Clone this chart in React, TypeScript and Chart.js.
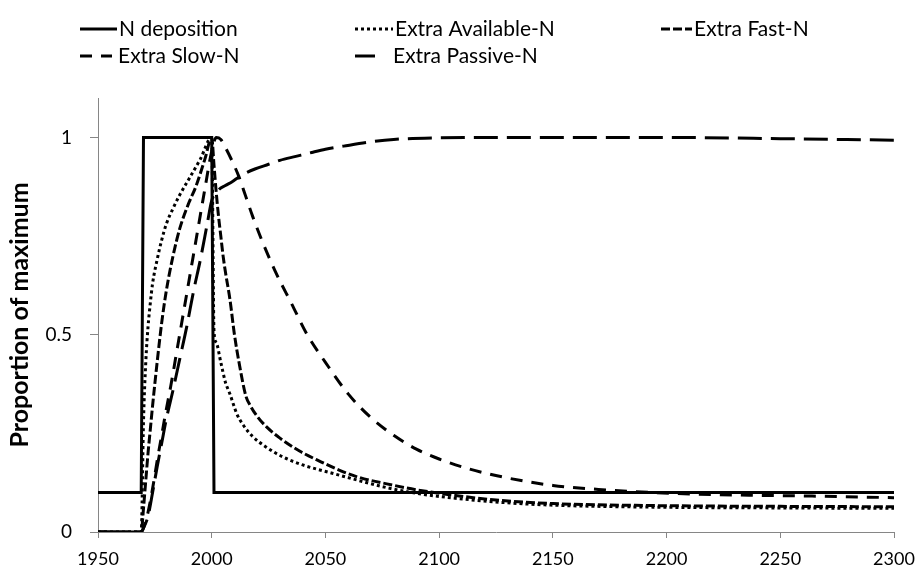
import React, { useEffect, useRef } from "react";
import { Chart, registerables } from "chart.js";

Chart.register(...registerables);

// ---------- data ----------
const seriesNames = [
  "N deposition",
  "Extra Available-N",
  "Extra Fast-N",
  "Extra Slow-N",
  "Extra Passive-N",
];

const xTickValues = [1950, 2000, 2050, 2100, 2150, 2200, 2250, 2300];
const yTickValues = [0, 0.5, 1];

const depYears = [1950, 1969, 1970, 2000, 2001, 2300];
const depValues = [0.1, 0.1, 1, 1, 0.1, 0.1];

const availYears = [
  1950, 1969, 1970, 1971, 1972, 1973, 1974, 1976, 1978, 1980, 1983, 1986, 1990,
  1995, 2000, 2001, 2002, 2004, 2006, 2008, 2011, 2014, 2018, 2024, 2031, 2040,
  2053, 2065, 2075, 2090, 2108, 2130, 2150, 2194, 2250, 2300,
];
const availValues = [
  0, 0, 0.28, 0.43, 0.52, 0.58, 0.63, 0.69, 0.74, 0.78, 0.82, 0.855, 0.895,
  0.945, 1.0, 0.51, 0.48, 0.43, 0.38, 0.35, 0.3, 0.27, 0.242, 0.215, 0.191,
  0.17, 0.149, 0.13, 0.115, 0.098, 0.085, 0.074, 0.068, 0.063, 0.061, 0.06,
];

const fastYears = [
  1950, 1969, 1970, 1971, 1972, 1973, 1974, 1976, 1978, 1980, 1983, 1986, 1990,
  1993, 1997, 2000, 2001, 2002, 2003, 2004, 2005, 2006, 2008, 2010, 2012, 2015,
  2017, 2020, 2024, 2030, 2039, 2048, 2056, 2065, 2077, 2090, 2108, 2125, 2150,
  2194, 2250, 2300,
];
const fastValues = [
  0, 0, 0.06, 0.13, 0.2, 0.26, 0.32, 0.43, 0.53, 0.61, 0.7, 0.77, 0.835,
  0.875, 0.945, 1.0, 0.93, 0.86, 0.8, 0.75, 0.7, 0.66, 0.59, 0.5, 0.43, 0.345,
  0.32, 0.293, 0.267, 0.238, 0.204, 0.178, 0.157, 0.138, 0.122, 0.107, 0.092,
  0.081, 0.072, 0.067, 0.065, 0.064,
];

const slowYears = [
  1950, 1969, 1970, 1972, 1974, 1976, 1978, 1980, 1982, 1985, 1988, 1991, 1994,
  1997, 2000, 2002, 2004, 2006, 2009, 2012, 2015, 2018, 2022, 2028, 2035, 2042,
  2050, 2060, 2070, 2080, 2090, 2100, 2113, 2130, 2150, 2170, 2194, 2212, 2238,
  2264, 2300,
];
const slowValues = [
  0, 0, 0.01, 0.05, 0.11, 0.18, 0.245, 0.31, 0.37, 0.47, 0.57, 0.67, 0.77,
  0.87, 0.965, 1.0, 0.995, 0.975, 0.94, 0.9, 0.85, 0.8, 0.74, 0.66, 0.58, 0.5,
  0.43, 0.35, 0.29, 0.245, 0.21, 0.185, 0.16, 0.137, 0.118, 0.108, 0.1, 0.096,
  0.093, 0.091, 0.087,
];

const passiveYears = [
  1950, 1969, 1970, 1972, 1974, 1976, 1978, 1980, 1983, 1986, 1989, 1992, 1995,
  1998, 2000, 2003, 2006, 2009, 2012, 2015, 2019, 2025, 2030, 2037, 2044, 2050,
  2058, 2070, 2080, 2100, 2125, 2150, 2200, 2250, 2300,
];
const passiveValues = [
  0, 0, 0.01, 0.04, 0.1, 0.165, 0.225, 0.285, 0.36, 0.44, 0.52, 0.61, 0.69,
  0.78, 0.84, 0.867, 0.878, 0.888, 0.9, 0.91, 0.92, 0.932, 0.942, 0.952, 0.962,
  0.97, 0.978, 0.989, 0.995, 0.999, 1.0, 1.0, 1.0, 0.997, 0.993,
];

// ---------- styling ----------
const FONT = "Lato, 'Open Sans', 'Liberation Sans', sans-serif";
const AXIS_GRAY = "#868686";
const dashes: number[][] = [[], [3, 3], [9, 3], [12, 9], [24, 9]];

const toPoints = (xs: number[], ys: number[]) =>
  xs.map((x, i) => ({ x, y: ys[i] }));

const legendPlugin = {
  id: "customLegend",
  afterDraw(chart: any) {
    const ctx = chart.ctx as CanvasRenderingContext2D;
    const items = [
      { lx0: 80, lx1: 117, tx: 119, y: 29 },
      { lx0: 355, lx1: 393, tx: 395, y: 29 },
      { lx0: 661, lx1: 692, tx: 694, y: 29 },
      { lx0: 80, lx1: 112, tx: 118, y: 56 },
      { lx0: 355, lx1: 375, tx: 393, y: 56 },
    ];
    ctx.save();
    items.forEach((it, i) => {
      ctx.beginPath();
      ctx.setLineDash(dashes[i]);
      ctx.lineWidth = 3;
      ctx.strokeStyle = "#000";
      ctx.lineCap = "butt";
      ctx.moveTo(it.lx0, it.y);
      ctx.lineTo(it.lx1, it.y);
      ctx.stroke();
      ctx.setLineDash([]);
      ctx.fillStyle = "#000";
      ctx.font = `21px ${FONT}`;
      ctx.textBaseline = "middle";
      ctx.textAlign = "left";
      ctx.fillText(seriesNames[i], it.tx, it.y);
    });
    ctx.restore();
  },
};

export default function App() {
  const ref = useRef<HTMLCanvasElement | null>(null);

  useEffect(() => {
    if (!ref.current) return;
    const series = [
      toPoints(depYears, depValues),
      toPoints(availYears, availValues),
      toPoints(fastYears, fastValues),
      toPoints(slowYears, slowValues),
      toPoints(passiveYears, passiveValues),
    ];
    const chart = new Chart(ref.current, {
      type: "line",
      data: {
        datasets: series.map((pts, i) => ({
          label: seriesNames[i],
          data: pts,
          borderColor: "#000",
          backgroundColor: "#000",
          borderWidth: 3,
          borderDash: dashes[i],
          borderCapStyle: "butt" as const,
          pointRadius: 0,
          fill: false,
          tension: 0,
          cubicInterpolationMode: i === 0 ? ("default" as const) : ("monotone" as const),
        })),
      },
      options: {
        responsive: false,
        animation: false,
        layout: { padding: { top: 98, right: 23, bottom: 0, left: 0 } },
        plugins: {
          legend: { display: false },
          tooltip: { enabled: false },
        },
        scales: {
          x: {
            type: "linear",
            min: 1950,
            max: 2300,
            afterBuildTicks: (s: any) => {
              s.ticks = xTickValues.map((v) => ({ value: v }));
            },
            afterFit: (s: any) => {
              s.height = 35;
              s.paddingRight = 0;
            },
            border: { display: true, color: AXIS_GRAY, width: 1 },
            grid: {
              display: true,
              drawOnChartArea: false,
              drawTicks: true,
              tickLength: 6,
              color: AXIS_GRAY,
            },
            ticks: {
              color: "#000",
              font: { family: FONT, size: 18 },
              padding: 10,
              maxRotation: 0,
              autoSkip: false,
              callback: (v: any) => String(v),
            },
          },
          y: {
            type: "linear",
            min: 0,
            max: 1.1,
            afterBuildTicks: (s: any) => {
              s.ticks = yTickValues.map((v) => ({ value: v }));
            },
            afterFit: (s: any) => {
              s.width = 98;
            },
            border: { display: true, color: AXIS_GRAY, width: 1 },
            grid: {
              display: true,
              drawOnChartArea: false,
              drawTicks: true,
              tickLength: 8,
              color: AXIS_GRAY,
            },
            ticks: {
              color: "#000",
              font: { family: FONT, size: 19 },
              padding: 18,
              callback: (v: any) => String(v),
            },
            title: {
              display: true,
              text: "Proportion of maximum",
              color: "#000",
              font: { family: FONT, size: 25, weight: "bold" },
              padding: { top: 5, bottom: 0 },
            },
          },
        },
      },
      plugins: [legendPlugin],
    });
    return () => chart.destroy();
  }, []);

  return (
    <div style={{ position: "absolute", left: 0, top: 0, width: 917, height: 567 }}>
      <canvas ref={ref} width={917} height={567} style={{ display: "block" }} />
    </div>
  );
}
